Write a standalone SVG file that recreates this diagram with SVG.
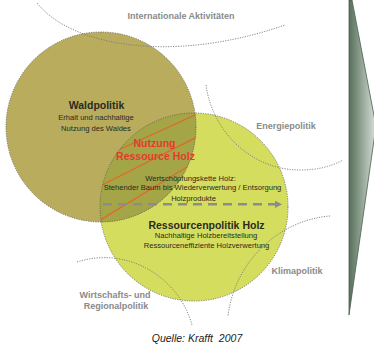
<svg xmlns="http://www.w3.org/2000/svg" width="374" height="347" viewBox="0 0 374 347">
  <defs>
    <linearGradient id="arrowGrad" x1="349" y1="0" x2="376" y2="0" gradientUnits="userSpaceOnUse">
      <stop offset="0" stop-color="#56705a"/>
      <stop offset="1" stop-color="#d8e0d8"/>
    </linearGradient>
    <clipPath id="lensClip">
      <path d="M195,113 A95,95 0 0,1 101.2,222 A94,94 0 0,1 195,113 Z"/>
    </clipPath>
    <marker id="arrowHead" viewBox="0 0 6 6" refX="5" refY="3" markerWidth="3" markerHeight="3" orient="auto" markerUnits="strokeWidth">
      <path d="M0,0 L6,3 L0,6 Z" fill="#8c8c8c"/>
    </marker>
    <style>
      .outline { fill: none; stroke: #5e5e52; stroke-width: 0.8; stroke-dasharray: 1.2 1.2; }
      .arc { fill: none; stroke: #7a7a7a; stroke-width: 0.9; stroke-dasharray: 1.2 1.3; }
      .hatch { stroke: #e3662c; stroke-width: 1.2; fill: none; }
      .ctx { font-family: "Liberation Sans", Arial, sans-serif; font-weight: bold; font-size: 9px; fill: #8a8a8a; text-anchor: middle; }
      .title { font-family: "Liberation Sans", Arial, sans-serif; font-weight: bold; font-size: 10.5px; fill: #2a2a1e; text-anchor: middle; }
      .small { font-family: "Liberation Sans", Arial, sans-serif; font-size: 7.6px; fill: #2a2a1e; text-anchor: middle; }
      .red { font-family: "Liberation Sans", Arial, sans-serif; font-weight: bold; font-size: 10.5px; fill: #e23b2e; text-anchor: middle; }
      .src { font-family: "Liberation Sans", Arial, sans-serif; font-style: italic; font-size: 10.5px; fill: #222222; text-anchor: middle; }
    </style>
  </defs>

  <rect width="374" height="347" fill="#ffffff"/>

  <g id="progress-arrow">
    <polygon points="349,0 352,0 376,126 349,315" fill="url(#arrowGrad)" stroke="#4a5e4c" stroke-width="0.8"/>
  </g>

  <g id="ressourcenpolitik">
    <circle cx="194" cy="207" r="94" fill="#d5dd5e"/>
  </g>
  <g id="waldpolitik">
    <circle cx="101" cy="127" r="95" fill="#b9ac5d"/>
  </g>
  <g id="nutzung-ressource-holz">
    <path d="M195,113 A95,95 0 0,1 101.2,222 A94,94 0 0,1 195,113 Z" fill="#a4a546"/>
    <g clip-path="url(#lensClip)">
      <line class="hatch" x1="80" y1="167.6" x2="210" y2="108.2"/>
      <line class="hatch" x1="80" y1="196.2" x2="210" y2="130.4"/>
      <line class="hatch" x1="80" y1="232.5" x2="210" y2="152.9"/>
    </g>
  </g>
  <g id="outlines">
    <circle class="outline" cx="194" cy="207" r="94"/>
    <circle class="outline" cx="101" cy="127" r="95"/>
  </g>

  <g id="connectors">
    <path class="arc" d="M37,3 C70,45 170,65 285,25"/>
    <path class="arc" d="M206,85 C212,130 250,170 300,170 Q325,170 343,160"/>
    <path class="arc" d="M330,216 C280,220 235,260 228,316"/>
    <path class="arc" d="M77,262 C130,245 180,280 192,325"/>
    <line x1="103" y1="204.3" x2="281" y2="204.3" stroke="#8c8c8c" stroke-width="2.6" stroke-dasharray="9 6" marker-end="url(#arrowHead)"/>
  </g>

  <g id="labels">
    <text class="ctx" x="181" y="19">Internationale Aktivitäten</text>
    <text class="ctx" x="286" y="129">Energiepolitik</text>
    <text class="ctx" x="297" y="274">Klimapolitik</text>
    <text class="ctx" x="115" y="297.5">Wirtschafts- und</text>
    <text class="ctx" x="116" y="309">Regionalpolitik</text>

    <text class="title" x="96.5" y="109">Waldpolitik</text>
    <text class="small" x="96" y="120">Erhalt und nachhaltige</text>
    <text class="small" x="96" y="131">Nutzung des Waldes</text>

    <text class="red" x="154.5" y="147">Nutzung</text>
    <text class="red" x="155.5" y="160">Ressource Holz</text>

    <text class="small" x="190.5" y="181">Wertschöpfungskette Holz:</text>
    <text class="small" x="192.5" y="190">Stehender Baum bis Wiederverwertung / Entsorgung</text>
    <text class="small" x="193.5" y="200.5">Holzprodukte</text>

    <text class="title" x="206.5" y="229">Ressourcenpolitik Holz</text>
    <text class="small" x="206" y="238">Nachhaltige Holzbereitstellung</text>
    <text class="small" x="206.5" y="247.5">Ressourceneffiziente Holzverwertung</text>

    <text class="src" x="197" y="342" xml:space="preserve">Quelle: Krafft  2007</text>
  </g>
</svg>
